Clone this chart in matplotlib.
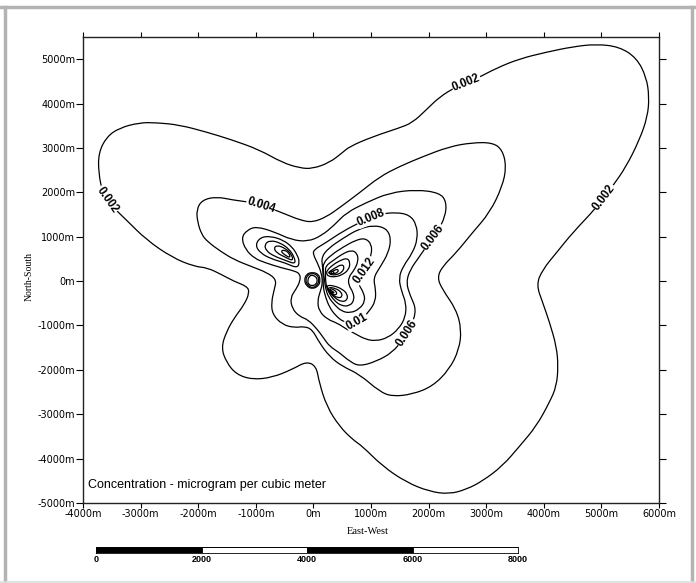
import math
import matplotlib
matplotlib.use("Agg")
import matplotlib.pyplot as plt
from matplotlib import font_manager
from matplotlib.lines import Line2D
from matplotlib.path import Path
from matplotlib.patches import PathPatch

INK = "black"
FRAME = "#b3b3b3"

# axis ticks (m)
x_ticks = [-4000, -3000, -2000, -1000, 0, 1000, 2000, 3000, 4000, 5000, 6000]
y_ticks = [-5000, -4000, -3000, -2000, -1000, 0, 1000, 2000, 3000, 4000, 5000]
scale_marks = [0, 2000, 4000, 6000, 8000]

# contour vertices, metres (closed loops)
c002_x = [-20, 280, 500, 625, 1020, 1490, 1720, 1960, 2190, 2480, 2830, 3180, 3580, 4050,
          4500, 4910, 5310, 5610, 5780, 5830, 5800, 5660, 5430, 5190, 4910, 4500, 4220, 3980,
          3870, 3980, 4100, 4220, 4250, 4220, 4100, 3870, 3580, 3280, 2930, 2660, 2360, 2010,
          1610, 1200, 850, 680, 450, 230, 100, 50, -120, -370, -710, -1060, -1340, -1510,
          -1600, -1510, -1370, -1200, -1110, -1150, -1370, -1600, -1840, -2070, -2450, -2900,
          -3250, -3490, -3660, -3730, -3730, -3590, -3370, -3020, -2730, -2330, -1860, -1410,
          -940, -540, -240]
c002_y = [2530, 2670, 2890, 3030, 3250, 3450, 3570, 3860, 4150, 4380, 4560, 4800, 5010, 5160,
          5280, 5340, 5280, 5030, 4600, 4150, 3700, 3180, 2580, 2130, 1650, 1090, 640, 260,
          -80, -480, -930, -1470, -1920, -2370, -2730, -3270, -3720, -4170, -4510, -4690, -4800,
          -4740, -4530, -4170, -3720, -3570, -3270, -2820, -2280, -1920, -1810, -1990, -2170,
          -2220, -2100, -1830, -1500, -1140, -820, -530, -260, -120, -10, 150, 300, 330, 530,
          930, 1380, 1680, 1990, 2440, 2890, 3250, 3450, 3570, 3570, 3520, 3360, 3180, 2960,
          2670, 2550]

c004_x = [-20, 230, 450, 800, 1150, 1490, 1890, 2360, 2760, 3110, 3280, 3350, 3280, 3060,
          2760, 2480, 2240, 2150, 2240, 2480, 2570, 2530, 2360, 2070, 1720, 1370, 1150, 800,
          500, 280, 100, -20, -160, -330, -540, -710, -730, -680, -640, -800, -1080, -1370,
          -1600, -1840, -1940, -2010, -2030, -1930, -1680, -1410, -1060, -760, -470, -240]
c004_y = [1320, 1450, 1650, 1990, 2350, 2580, 2800, 3030, 3120, 3120, 2960, 2580, 2130, 1540,
          1090, 640, 330, 80, -190, -640, -1090, -1540, -1990, -2370, -2550, -2600, -2490,
          -2100, -1920, -1700, -1380, -1090, -1020, -1050, -980, -750, -480, -190, 30, 190,
          330, 480, 660, 890, 1050, 1320, 1610, 1830, 1900, 1830, 1770, 1650, 1500, 1380]

c006_x = [-990, -680, -380, -100, 140, 370, 570, 920, 1320, 1790, 2190, 2310, 2290, 2150,
          2010, 1840, 1680, 1610, 1680, 1790, 1700, 1550, 1370, 1090, 800, 630, 450, 280, 170,
          70, -90, -240, -370, -400, -300, -230, -230, -330, -560, -850, -1020, -1180, -1250,
          -1150]
c006_y = [1230, 1110, 930, 890, 1020, 1270, 1540, 1770, 1990, 2060, 1990, 1790, 1450, 1110,
          870, 550, 260, -30, -330, -640, -1020, -1320, -1610, -1810, -1920, -1810, -1610,
          -1470, -1270, -1090, -870, -800, -620, -370, -180, 0, 160, 230, 300, 420, 510, 710,
          980, 1150]

# east wings (NE + SE) around the source
c008e_x = [0, 210, 520, 850, 1150, 1440, 1670, 1790, 1810, 1720, 1560, 1480, 1530, 1610, 1600,
           1480, 1290, 1080, 900, 730, 570, 420, 240, 100, 70, 120, 160, 140, 70, 0]
c008e_y = [700, 860, 1130, 1350, 1510, 1550, 1490, 1280, 950, 630, 340, 70, -230, -500, -810,
           -1080, -1280, -1350, -1310, -1190, -1080, -950, -860, -680, -450, -230, -50, 180,
           410, 590]
c010e_x = [140, 260, 520, 780, 1040, 1270, 1350, 1300, 1160, 1040, 1080, 1080, 970, 830, 680,
           520, 380, 280, 210, 170, 170, 160]
c010e_y = [540, 740, 970, 1170, 1260, 1190, 950, 630, 320, 70, -180, -450, -680, -860, -970,
           -920, -770, -590, -360, -140, 90, 320]
c012e_x = [170, 310, 520, 730, 900, 1010, 1010, 940, 820, 780, 870, 900, 800, 640, 490, 370,
           260, 210, 190, 170]
c012e_y = [410, 590, 770, 920, 970, 830, 610, 360, 140, -70, -250, -450, -630, -720, -680,
           -540, -360, -160, 50, 230]
c014e_x = [210, 350, 500, 660, 760, 780, 710, 610, 610, 690, 710, 630, 490, 370, 280, 230, 210,
           210]
c014e_y = [340, 470, 610, 700, 630, 450, 250, 90, -90, -250, -430, -560, -560, -450, -290,
           -140, 20, 180]
c016ne_x = [230, 330, 470, 590, 640, 610, 500, 370, 260, 230]
c016ne_y = [230, 360, 470, 520, 410, 250, 140, 90, 110, 160]
c016se_x = [240, 370, 500, 590, 590, 490, 370, 280, 240]
c016se_y = [-90, -110, -180, -290, -430, -470, -380, -250, -160]
c018ne_x = [260, 370, 490, 540, 500, 400, 300]
c018ne_y = [200, 290, 380, 320, 200, 140, 140]
c018se_x = [260, 380, 490, 500, 420, 310, 260]
c018se_y = [-140, -160, -250, -360, -380, -290, -200]
c020ne_x = [280, 370, 430, 430, 350]
c020ne_y = [180, 250, 270, 200, 160]
c020se_x = [280, 370, 420, 350, 300]
c020se_y = [-160, -200, -290, -320, -230]
c022ne_x = [250, 330, 370, 300]
c022ne_y = [200, 230, 185, 160]
c022se_x = [250, 330, 370, 290]
c022se_y = [-180, -225, -275, -250]

# north-west wing
c008w_x = [-280, -490, -730, -920, -1010, -920, -730, -520, -370, -280, -240]
c008w_y = [290, 410, 500, 630, 810, 990, 1010, 920, 770, 590, 430]
c010w_x = [-310, -490, -680, -820, -850, -750, -570, -420, -330]
c010w_y = [380, 470, 560, 680, 830, 920, 860, 720, 540]
c012w_x = [-350, -490, -630, -690, -630, -490, -380]
c012w_y = [450, 540, 630, 740, 810, 740, 610]
c014w_x = [-400, -500, -570, -500, -420]
c014w_y = [520, 590, 680, 700, 630]

# rings round the source receptor
ring_in_x = [-100, -70, -20, 50, 70, 50, -20, -90]
ring_in_y = [20, 110, 140, 90, 20, -70, -110, -70]
ring_mid_x = [-140, -100, -20, 70, 100, 70, -20, -100]
ring_mid_y = [20, 135, 180, 135, 20, -90, -160, -90]
ring_out_x = [-160, -120, -20, 90, 120, 90, -20, -120]
ring_out_y = [20, 160, 200, 160, 20, -110, -180, -110]

contour_sets = {
    "c002": (0.002, c002_x, c002_y),
    "c004": (0.004, c004_x, c004_y),
    "c006": (0.006, c006_x, c006_y),
    "c008e": (0.008, c008e_x, c008e_y),
    "c010e": (0.010, c010e_x, c010e_y),
    "c012e": (0.012, c012e_x, c012e_y),
    "c014e": (0.014, c014e_x, c014e_y),
    "c016ne": (0.016, c016ne_x, c016ne_y),
    "c016se": (0.016, c016se_x, c016se_y),
    "c018ne": (0.018, c018ne_x, c018ne_y),
    "c018se": (0.018, c018se_x, c018se_y),
    "c020ne": (0.020, c020ne_x, c020ne_y),
    "c020se": (0.020, c020se_x, c020se_y),
    "c022ne": (0.022, c022ne_x, c022ne_y),
    "c022se": (0.022, c022se_x, c022se_y),
    "c008w": (0.008, c008w_x, c008w_y),
    "c010w": (0.010, c010w_x, c010w_y),
    "c012w": (0.012, c012w_x, c012w_y),
    "c014w": (0.014, c014w_x, c014w_y),
    "ring_in": (None, ring_in_x, ring_in_y),
    "ring_mid": (None, ring_mid_x, ring_mid_y),
    "ring_out": (None, ring_out_x, ring_out_y),
}

# where the value labels sit (nearest point of the named contour)
label_spots = [
    ("c002", 2830, 4560),
    ("c002", 4910, 1650),
    ("c002", -3490, 1680),
    ("c004", -760, 1650),
    ("c006", 2010, 870),
    ("c006", 1550, -1320),
    ("c008e", 850, 1350),
    ("c012e", 940, 360),
    ("c010e", 830, -860),
]


def _pick(fams):
    for fam in fams:
        try:
            font_manager.findfont(fam, fallback_to_default=False)
            return fam
        except Exception:
            continue
    return "DejaVu Sans"


def _mids(xs, ys):
    n = len(xs)
    return [((xs[k] + xs[(k + 1) % n]) / 2, (ys[k] + ys[(k + 1) % n]) / 2) for k in range(n)]


def _smooth(xs, ys):
    # closed curve through segment midpoints, traced vertices as control points
    mids = _mids(xs, ys)
    verts = [mids[-1]]
    codes = [Path.MOVETO]
    for k in range(len(xs)):
        verts += [(xs[k], ys[k]), mids[k]]
        codes += [Path.CURVE3, Path.CURVE3]
    return Path(verts, codes)


def _label(ax, level, xs, ys, hx, hy):
    n = len(xs)
    mids = _mids(xs, ys)
    k = min(range(n), key=lambda j: (mids[j][0] - hx) ** 2 + (mids[j][1] - hy) ** 2)
    p0 = ax.transData.transform((xs[k], ys[k]))
    p1 = ax.transData.transform((xs[(k + 1) % n], ys[(k + 1) % n]))
    ang = math.degrees(math.atan2(p1[1] - p0[1], p1[0] - p0[0]))
    if ang > 90:
        ang -= 180
    if ang <= -90:
        ang += 180
    ax.text(mids[k][0], mids[k][1], f"{level:g}", rotation=ang, rotation_mode="anchor",
            ha="center", va="center", fontsize=8.3, fontweight="bold",
            family=SANS, color=INK, zorder=5,
            bbox=dict(fc="white", ec="none", pad=0.3))


SANS = _pick(["Liberation Sans", "Arial"])
SERIF = _pick(["Liberation Serif", "Times New Roman"])
NARROW = _pick(["Liberation Sans Narrow", "Liberation Sans"])

fig = plt.figure(figsize=(6.96, 5.83), dpi=100)
fig.patch.set_facecolor("white")

ax = fig.add_axes([83 / 696, 80 / 583, 576 / 696, 466 / 583])
ax.set_xlim(-4000, 6000)
ax.set_ylim(-5000, 5500)

for name, (level, xs, ys) in contour_sets.items():
    ax.add_patch(PathPatch(_smooth(xs, ys), fill=False, edgecolor=INK, lw=0.9,
                           joinstyle="round"))

for name, hx, hy in label_spots:
    level, xs, ys = contour_sets[name]
    _label(ax, level, xs, ys, hx, hy)

ax.set_xticks(x_ticks)
ax.set_xticklabels([f"{v}m" for v in x_ticks])
ax.set_yticks(y_ticks)
ax.set_yticklabels([f"{v}m" for v in y_ticks])
ax.tick_params(axis="x", direction="out", length=3.5, width=0.8, top=True,
               labeltop=False, pad=1, labelsize=7, colors=INK)
ax.tick_params(axis="y", direction="out", length=5, width=0.8, right=True,
               labelright=False, pad=0.5, labelsize=7, colors=INK)
for sp in ax.spines.values():
    sp.set_linewidth(1.0)
    sp.set_color("#222222")

ax.set_xlabel("East-West", family=SERIF, fontsize=7.5)
ax.xaxis.set_label_coords(0.495, -0.052)
ax.set_ylabel("North-South", family=SERIF, fontsize=7)
ax.yaxis.set_label_coords(-0.085, 0.485)

ax.text(0.009, 0.038, "Concentration - microgram per cubic meter", transform=ax.transAxes,
        ha="left", va="center", fontsize=9, family=SANS, color=INK)

# scale bar below the map
bar = fig.add_axes([96 / 696, 30 / 583, 422 / 696, 6 / 583])
for k in range(len(scale_marks) - 1):
    left = scale_marks[k]
    bar.barh(0, scale_marks[k + 1] - left, left=left, height=1,
             color=INK if k % 2 == 0 else "white", edgecolor=INK, linewidth=0.6)
bar.set_xlim(scale_marks[0], scale_marks[-1])
bar.set_ylim(-0.5, 0.5)
bar.set_yticks([])
bar.set_xticks(scale_marks)
bar.set_xticklabels([str(v) for v in scale_marks])
bar.tick_params(axis="x", length=0, pad=1.2, labelsize=6.5)
for t in bar.get_xticklabels():
    t.set_family(NARROW)
    t.set_fontweight("bold")
for sp in bar.spines.values():
    sp.set_linewidth(0.6)

# grey page frame
fig.add_artist(Line2D([4.5 / 696, 4.5 / 696], [0.0, 1 - 6.5 / 583], transform=fig.transFigure,
                      color=FRAME, lw=2.5))
fig.add_artist(Line2D([0.0, 1.0], [1 - 6.5 / 583, 1 - 6.5 / 583], transform=fig.transFigure,
                      color=FRAME, lw=2.5))
fig.add_artist(Line2D([692 / 696, 692 / 696], [0.0, 1 - 6.5 / 583], transform=fig.transFigure,
                      color=FRAME, lw=2.5))
fig.add_artist(Line2D([0.0, 1.0], [1.5 / 583, 1.5 / 583], transform=fig.transFigure,
                      color="#dddddd", lw=1.2))

fig.savefig("out.png", dpi=100, facecolor="white")
plt.close(fig)
